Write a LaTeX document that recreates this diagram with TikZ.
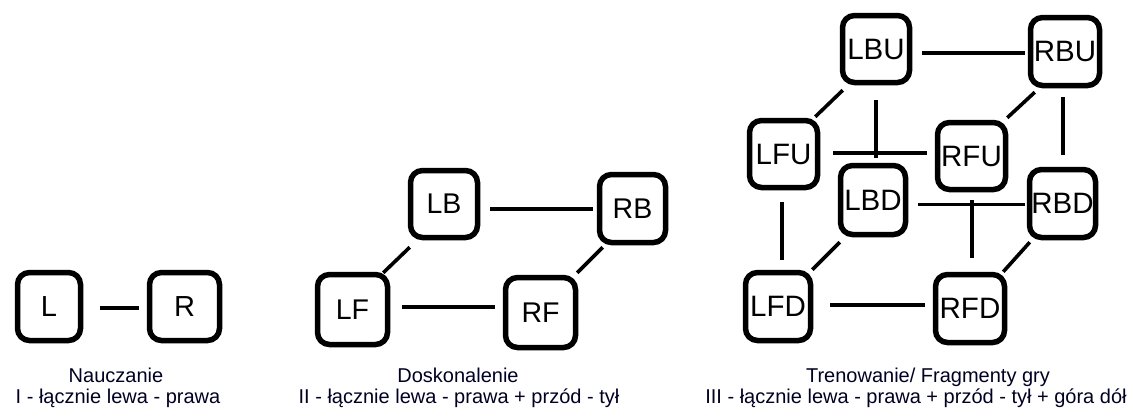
\documentclass[tikz,border=0pt]{standalone}
\usepackage{fontspec}
\setmainfont{Liberation Sans}
\begin{document}
\begin{tikzpicture}[x=1pt,y=-1pt,
  box/.style={draw, line width=5.5pt, rounded corners=12pt, inner sep=0pt},
  boxa/.style={box, font=\fontsize{29}{29}\selectfont},
  boxb/.style={box, font=\fontsize{28.5}{28.5}\selectfont},
  boxc/.style={box, font=\fontsize{29.5}{29.5}\selectfont},
  conn/.style={line width=3.6pt},
  captxt/.style={anchor=base, inner sep=0pt, font=\fontsize{20}{20}\selectfont, text=black!85!blue!90!black},
  capone/.style={captxt, text depth=0pt},
  captwo/.style={captxt, text height=14pt}]
\useasboundingbox (0,0) rectangle (1133,416);
% panel 1
\node[boxa, minimum width=63pt, minimum height=68pt] (L) at (49,306.5) {L};
\node[boxa, minimum width=70pt, minimum height=68pt] (R) at (184.5,306.5) {R};
\draw[conn] ([shift={(17,1.5)}]L.east) -- ([shift={(-7.5,1.5)}]R.west);
\node[capone] (c1a) at (116,382.5) {Nauczanie};
\node[captwo] (c1b) at (118,403) {I - łącznie lewa - prawa};
% panel 2
\node[boxb, minimum width=67pt, minimum height=67pt] (LB) at (444,204) {LB};
\node[boxb, minimum width=66pt, minimum height=68pt] (RB) at (632.5,208.5) {RB};
\node[boxb, minimum width=70pt, minimum height=70pt] (LF) at (352.5,309.5) {LF};
\node[boxb, minimum width=70pt, minimum height=70pt] (RF) at (540.5,312.5) {RF};
\draw[conn] ([shift={(10,5)}]LB.east) -- ([shift={(-4,0.5)}]RB.west);
\draw[conn] ([shift={(12,-2.5)}]LF.east) -- ([shift={(-8,-5.5)}]RF.west);
\draw[conn] ([shift={(2,7)}]LB.south west) -- ([shift={(-7,1)}]LF.north east);
\draw[conn] ([shift={(6,2)}]RB.south west) -- ([shift={(-1,-2)}]RF.north east);
\node[capone] (c2a) at (458,382.5) {Doskonalenie};
\node[captwo] (c2b) at (459,403) {II - łącznie lewa - prawa + przód - tył};
% panel 3
\node[boxc, minimum width=67pt, minimum height=67pt] (LBU) at (876,49) {LBU};
\node[boxc, minimum width=69pt, minimum height=68pt] (RBU) at (1065,51.5) {RBU};
\node[boxc, minimum width=68pt, minimum height=67pt] (LFU) at (783.5,154) {LFU};
\node[boxc, minimum width=68pt, minimum height=67pt] (RFU) at (971.5,156) {RFU};
\node[boxc, minimum width=65pt, minimum height=69pt] (LBD) at (873,200) {LBD};
\node[boxc, minimum width=66pt, minimum height=68pt] (RBD) at (1062.5,203.5) {RBD};
\node[boxc, minimum width=65pt, minimum height=68pt] (LFD) at (778,306.5) {LFD};
\node[boxc, minimum width=69pt, minimum height=68pt] (RFD) at (970,308.5) {RFD};
\draw[conn] ([shift={(10,4)}]LBU.east) -- ([shift={(-3,1.5)}]RBU.west);
\draw[conn] ([shift={(3,5)}]LBU.south west) -- ([shift={(-5,-1)}]LFU.north east);
\draw[conn] ([shift={(0,15)}]LBU.south) -- ([shift={(3,-5)}]LBD.north);
\draw[conn] ([shift={(13,-1)}]LFU.east) -- ([shift={(-8,-3)}]RFU.west);
\draw[conn] ([shift={(7,4)}]RBU.south west) -- ([shift={(-1,-2)}]RFU.north east);
\draw[conn] ([shift={(-2,9)}]RBU.south) -- ([shift={(0.5,-12)}]RBD.north);
\draw[conn] ([shift={(10,4.5)}]LBD.east) -- ([shift={(-2,1)}]RBD.west);
\draw[conn] ([shift={(0.5,8)}]RFU.south) -- ([shift={(2,-14)}]RFD.north);
\draw[conn] ([shift={(-1.5,12)}]LFU.south) -- ([shift={(4,-10)}]LFD.north);
\draw[conn] ([shift={(2,5)}]LBD.south west) -- ([shift={(-1,0)}]LFD.north east);
\draw[conn] ([shift={(3,2)}]RBD.south west) -- ([shift={(-4,0)}]RFD.north east);
\draw[conn] ([shift={(17,-1.5)}]LFD.east) -- ([shift={(-8,-3.5)}]RFD.west);
\node[capone] (c3a) at (928,382.5) {Trenowanie/ Fragmenty gry};
\node[captwo] (c3b) at (916,403) {III - łącznie lewa - prawa + przód - tył + góra dół};
\end{tikzpicture}
\end{document}
